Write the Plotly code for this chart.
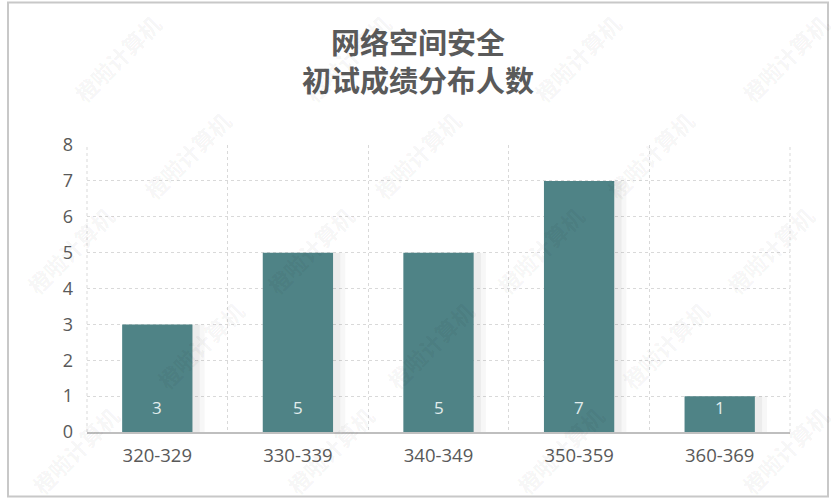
import plotly.graph_objects as go

categories = ["320-329", "330-339", "340-349", "350-359", "360-369"]
counts = [3, 5, 5, 7, 1]
y_ticks = [0, 1, 2, 3, 4, 5, 6, 7, 8]
title_lines = ["网络空间安全", "初试成绩分布人数"]
watermark = "橙啦计算机"

W, H = 835, 500
PL, PR, PT, PB = 87, 790, 145, 432   # plot area in pixels

def px(x):
    return x / W

def py(y):
    return 1 - y / H

fig = go.Figure()

# soft shadow layers behind the bars
for dx, w, a in [(0.045, 0.56, 0.03), (0.025, 0.53, 0.045)]:
    fig.add_trace(go.Bar(
        x=categories, y=counts, width=w, offset=-0.25 + dx - (w - 0.5) / 2 + 0.012,
        marker=dict(color=f"rgba(0,0,0,{a})", line=dict(width=0)),
        hoverinfo="skip", showlegend=False,
    ))

fig.add_trace(go.Bar(
    x=categories, y=counts, width=0.5,
    marker=dict(color="#4F8386", line=dict(width=0)),
    showlegend=False,
))

annotations = []
# value labels near the base of each bar
for c, v in zip(categories, counts):
    annotations.append(dict(
        text=str(v), xref="x", yref="y", x=c, y=0, yshift=25,
        xanchor="center", yanchor="middle", showarrow=False,
        font=dict(family="Open Sans", size=17, color="#E2EDED"),
    ))

annotations.append(dict(
    text="<br>".join(title_lines), xref="paper", yref="paper",
    x=px(418), y=py(59.5), xanchor="center", yanchor="middle", showarrow=False,
    font=dict(family="Noto Sans CJK SC", size=29, color="#5A5A5A", weight="bold"),
))

wm_rows = [
    (58, [117, 347, 577, 785]),
    (155, [187, 417, 650]),
    (250, [70, 310, 540, 770]),
    (345, [200, 430, 665]),
    (450, [75, 330, 560, 785]),
]
for yy, xs in wm_rows:
    for xx in xs:
        annotations.append(dict(
            text=f"<b>{watermark}</b>", xref="paper", yref="paper", x=px(xx), y=py(yy),
            xanchor="center", yanchor="middle", showarrow=False, textangle=-45,
            font=dict(family="Noto Sans CJK SC", size=22, color="rgba(0,0,0,0.055)"),
        ))

shapes = [dict(type="rect", xref="paper", yref="paper",
               x0=px(8), x1=px(828), y0=py(496.5), y1=py(2.5),
               line=dict(color="#C8C8C8", width=2), fillcolor="rgba(0,0,0,0)", layer="below")]
# dotted gridlines at the left and right edges of the plot area
for xd in (0, 1):
    shapes.append(dict(type="line", xref="x domain", yref="y domain",
                       x0=xd, x1=xd, y0=0, y1=1, layer="below",
                       line=dict(color="#D9D9D9", width=1, dash="dot")))

fig.update_layout(
    width=W, height=H,
    margin=dict(l=0, r=0, t=0, b=0, autoexpand=False),
    paper_bgcolor="white", plot_bgcolor="white",
    barmode="overlay",
    annotations=annotations,
    shapes=shapes,
    xaxis=dict(
        type="category", domain=[PL / W, PR / W],
        categoryorder="array", categoryarray=categories,
        range=[-0.5, len(categories) - 0.5], tickson="boundaries",
        showgrid=True, gridcolor="#D9D9D9", griddash="dot", gridwidth=1,
        showline=True, linecolor="#BFBFBF", linewidth=1.5, ticks="", zeroline=False,
        ticklabelstandoff=6, automargin=False,
        tickfont=dict(family="Open Sans", size=18.5, color="#595959"),
    ),
    yaxis=dict(
        domain=[1 - PB / H, 1 - PT / H],
        range=[0, 8], tickmode="array", tickvals=y_ticks,
        showgrid=True, gridcolor="#D9D9D9", griddash="dot", gridwidth=1,
        zeroline=False, showline=False, ticks="", ticklabelstandoff=13, automargin=False,
        tickfont=dict(family="Open Sans", size=18, color="#595959"),
    ),
)

fig.write_html("out.html", config={"displayModeBar": False},
               post_script="document.body.style.margin='0px';")
